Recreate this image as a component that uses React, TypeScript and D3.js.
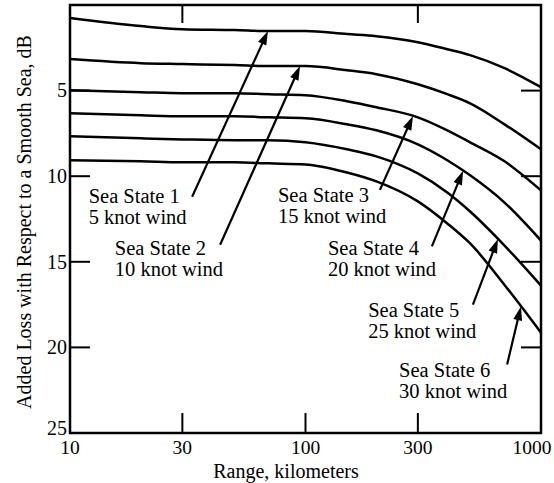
import React from "react";
import * as d3 from "d3";

// Range in kilometres at which each curve is sampled
const rangeKm = [10, 20, 30, 50, 70, 100, 150, 200, 300, 400, 500, 700, 1000];

// Added loss (dB) for each sea state
const seaState1 = [0.76, 1.23, 1.41, 1.46, 1.52, 1.52, 1.7, 1.82, 2.17, 2.58, 2.93, 3.69, 4.8];
const seaState2 = [3.16, 3.4, 3.45, 3.51, 3.57, 3.57, 3.81, 4.04, 4.63, 5.21, 5.74, 6.97, 8.43];
const seaState3 = [4.98, 5.09, 5.15, 5.15, 5.21, 5.27, 5.62, 5.97, 6.56, 7.32, 8.02, 9.13, 10.83];
const seaState4 = [6.32, 6.44, 6.5, 6.5, 6.56, 6.62, 6.97, 7.32, 8.14, 9.07, 9.95, 11.54, 13.76];
const seaState5 = [7.67, 7.79, 7.85, 7.9, 7.9, 8.02, 8.43, 8.84, 9.84, 10.95, 12.06, 14.05, 16.39];
const seaState6 = [9.07, 9.13, 9.19, 9.19, 9.25, 9.31, 9.78, 10.3, 11.47, 12.76, 13.93, 16.35, 19.14];

const seriesValues = [seaState1, seaState2, seaState3, seaState4, seaState5, seaState6];
const stateNames = ["Sea State 1", "Sea State 2", "Sea State 3", "Sea State 4", "Sea State 5", "Sea State 6"];
const windNames = ["5 knot wind", "10 knot wind", "15 knot wind", "20 knot wind", "25 knot wind", "30 knot wind"];

// Tick labels
const xTicks = [10, 30, 100, 300, 1000];
const xTickLabels = ["10", "30", "100", "300", "1000"];
const yTicks = [5, 10, 15, 20, 25];
const yTickLabels = ["5", "10", "15", "20", "25"];

// Callout placement in data space: label anchor, arrow tail, and range (km) where the arrow meets its curve
const labelKm = [12.0, 15.5, 76.4, 124.5, 184.5, 249.7];
const labelDb = [11.57, 14.6, 11.5, 14.6, 18.2, 21.7];
const tailKm = [33, 43.4, 207, 344, 514, 718];
const tailDb = [11.2, 14.0, 10.8, 14.1, 17.5, 21.0];
const tipKm = [69.3, 94.8, 286, 467, 656, 822];

const W = 554;
const H = 483;
const left = 70;
const right = 541;
const top = 5;
const bottom = 433;

const FONT = "'Liberation Serif', 'Times New Roman', serif";

function valueAt(values: number[], km: number) {
  const lk = Math.log10(km);
  for (let i = 0; i < rangeKm.length - 1; i++) {
    const a = Math.log10(rangeKm[i]);
    const b = Math.log10(rangeKm[i + 1]);
    if (lk >= a && lk <= b) {
      const t = (lk - a) / (b - a);
      return values[i] + t * (values[i + 1] - values[i]);
    }
  }
  return values[values.length - 1];
}

export default function App() {
  const x = d3.scaleLog().domain([10, 1000]).range([left, right]);
  const y = d3.scaleLinear().domain([0, 25]).range([top, bottom]);

  const line = d3
    .line<[number, number]>()
    .x((d) => x(d[0]))
    .y((d) => y(d[1]))
    .curve(d3.curveMonotoneX);

  const tickLen = 20;

  return (
    <svg
      width={W}
      height={H}
      viewBox={`0 0 ${W} ${H}`}
      style={{ position: "absolute", left: 0, top: 0, background: "#fff" }}
    >
      <rect x={0} y={0} width={W} height={H} fill="#fff" />

      {/* curves */}
      <g fill="none" stroke="#000" strokeWidth={2.5} strokeLinejoin="round">
        {seriesValues.map((vals, i) => (
          <path key={i} d={line(rangeKm.map((k, j) => [k, vals[j]] as [number, number])) || ""} />
        ))}
      </g>

      {/* frame */}
      <rect
        x={left}
        y={top}
        width={right - left}
        height={bottom - top}
        fill="none"
        stroke="#000"
        strokeWidth={2.5}
      />

      {/* y ticks, both sides, pointing inward */}
      <g stroke="#000" strokeWidth={2}>
        {yTicks
          .filter((v) => v < 25)
          .map((v) => (
            <g key={v}>
              <line x1={left} x2={left + tickLen} y1={y(v)} y2={y(v)} />
              <line x1={right - tickLen} x2={right} y1={y(v)} y2={y(v)} />
            </g>
          ))}
      </g>

      {/* x ticks */}
      <g stroke="#000" strokeWidth={2}>
        {xTicks
          .filter((v) => v > 10 && v < 1000)
          .map((v) => (
            <line key={"b" + v} x1={x(v)} x2={x(v)} y1={bottom} y2={bottom - tickLen} />
          ))}
        {[30, 300].map((v) => (
          <line key={"t" + v} x1={x(v)} x2={x(v)} y1={top} y2={top + tickLen - 2} />
        ))}
      </g>

      {/* y tick labels */}
      <g fontFamily={FONT} fontSize={20} fill="#000" textAnchor="end">
        {yTicks.map((v, i) => (
          <text key={v} x={left - 3} y={y(v) - (v === 25 ? 5 : 0)} dy="0.34em">
            {yTickLabels[i]}
          </text>
        ))}
      </g>

      {/* x tick labels */}
      <g fontFamily={FONT} fontSize={19.5} fill="#000" textAnchor="middle">
        {xTicks.map((v, i) => (
          <text key={v} x={x(v) - (v === 1000 ? 9 : 0)} y={454}>
            {xTickLabels[i]}
          </text>
        ))}
      </g>

      {/* axis titles */}
      <text x={286} y={478} fontFamily={FONT} fontSize={20} textAnchor="middle" fill="#000">
        Range, kilometers
      </text>
      <text
        transform={`translate(31, 222) rotate(-90)`}
        fontFamily={FONT}
        fontSize={20}
        textAnchor="middle"
        fill="#000"
      >
        Added Loss with Respect to a Smooth Sea, dB
      </text>

      {/* callouts */}
      {seriesValues.map((vals, i) => {
        const tx = x(tailKm[i]);
        const ty = y(tailDb[i]);
        const px = x(tipKm[i]);
        const py = y(valueAt(vals, tipKm[i]));
        const dx = px - tx;
        const dyv = py - ty;
        const len = Math.hypot(dx, dyv);
        const ux = dx / len;
        const uy = dyv / len;
        const headLen = 14;
        const headHalf = 4.5;
        const bx = px - ux * headLen;
        const by = py - uy * headLen;
        const head = [
          [px, py],
          [bx - uy * headHalf, by + ux * headHalf],
          [bx + uy * headHalf, by - ux * headHalf],
        ]
          .map((p) => p.join(","))
          .join(" ");
        const lx = x(labelKm[i]);
        const ly = y(labelDb[i]);
        return (
          <g key={i}>
            <line x1={tx} y1={ty} x2={bx + ux * 2} y2={by + uy * 2} stroke="#000" strokeWidth={2.2} />
            <polygon points={head} fill="#000" />
            <text x={lx} y={ly} fontFamily={FONT} fontSize={20.5} fill="#000">
              {stateNames[i]}
            </text>
            <text x={lx} y={ly + 21} fontFamily={FONT} fontSize={20.5} fill="#000">
              {windNames[i]}
            </text>
          </g>
        );
      })}
    </svg>
  );
}
